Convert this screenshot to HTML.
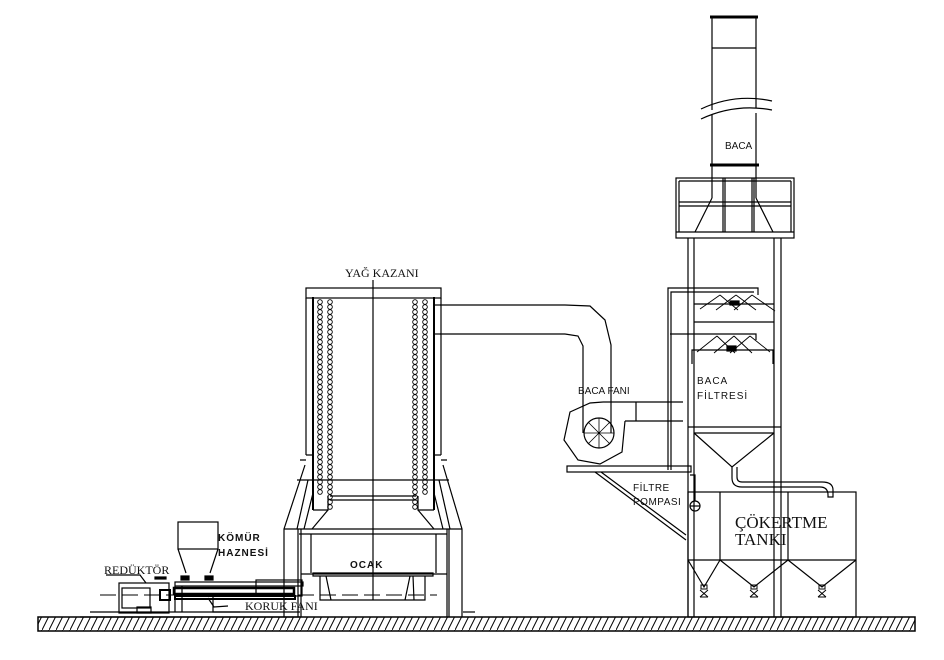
<!DOCTYPE html>
<html><head><meta charset="utf-8"><style>
html,body{margin:0;padding:0;background:#fff;}
svg{display:block;}
text{font-family:"Liberation Sans",sans-serif;fill:#111;}
.s{font-family:"Liberation Serif",serif;}
</style></head><body>
<svg width="944" height="660" viewBox="0 0 944 660" xmlns="http://www.w3.org/2000/svg">
<defs>
<pattern id="h" width="7" height="14" patternUnits="userSpaceOnUse">
<line x1="0" y1="14" x2="7" y2="0" stroke="#000" stroke-width="1"/>
</pattern>
</defs>
<g fill="none" stroke="#000" stroke-width="1.2">
<!-- ground -->
<rect x="38" y="617" width="877" height="14" fill="url(#h)" stroke="#000" stroke-width="1.5"/>

<!-- chimney -->
<line x1="710" y1="17" x2="758" y2="17" stroke-width="3"/>
<line x1="712" y1="17" x2="712" y2="110"/><line x1="756" y1="17" x2="756" y2="108"/>
<line x1="712" y1="48" x2="756" y2="48"/>
<path d="M701 109 Q735 93 772 101"/><path d="M701 119 Q735 103 772 110"/>
<line x1="712" y1="115" x2="712" y2="165"/><line x1="756" y1="113" x2="756" y2="165"/>
<line x1="710" y1="165" x2="759" y2="165" stroke-width="3"/>
<line x1="712" y1="165" x2="712" y2="198"/><line x1="756" y1="165" x2="756" y2="198"/>

<!-- platform -->
<rect x="676" y="178" width="118" height="60"/>
<line x1="679" y1="181" x2="679" y2="232"/><line x1="791" y1="181" x2="791" y2="232"/>
<line x1="679" y1="181" x2="791" y2="181"/>
<line x1="679" y1="202" x2="791" y2="202"/><line x1="679" y1="206" x2="791" y2="206"/>
<line x1="723" y1="178" x2="723" y2="232"/><line x1="725" y1="178" x2="725" y2="232"/>
<line x1="752" y1="178" x2="752" y2="232"/><line x1="754" y1="178" x2="754" y2="232"/>
<line x1="712" y1="198" x2="695" y2="232"/><line x1="756" y1="198" x2="773" y2="232"/>
<line x1="676" y1="232" x2="794" y2="232"/>

<!-- tower columns -->
<line x1="688" y1="238" x2="688" y2="617"/><line x1="694" y1="238" x2="694" y2="617"/>
<line x1="774" y1="238" x2="774" y2="617"/><line x1="781" y1="238" x2="781" y2="617"/>
<!-- header pipes -->
<path d="M668 470 V288 H758 V295"/><path d="M671 470 V292 H754"/>
<path d="M670 334 H756 V340"/>
<!-- spray 1 -->
<line x1="694" y1="304" x2="774" y2="304"/>
<line x1="694" y1="322" x2="774" y2="322"/>
<g stroke-width="0.9">
<path d="M720 295 L700 309 M720 295 L738 310 M736 295 L716 310 M736 295 L756 310 M752 295 L734 310 M752 295 L775 311"/>
</g>
<rect x="730" y="301" width="9" height="4" fill="#000"/>
<!-- spray 2 -->
<path d="M692 364 V350 H773 V364"/>
<g stroke-width="0.9">
<path d="M717 336 L697 352 M717 336 L735 353 M734 336 L714 353 M734 336 L752 353 M750 336 L730 353 M750 336 L770 352"/>
</g>
<rect x="727" y="346" width="9" height="5" fill="#000"/>
<!-- filter bottom & cone -->
<line x1="688" y1="427" x2="781" y2="427"/>
<line x1="694" y1="433" x2="774" y2="433"/>
<path d="M694 433 L732 467 L774 433"/>
<path d="M732 467 V478 Q732 487 742 487 H820 Q828 487 828 495 V497 H833 V490 Q833 482 822 482 H742 Q737 482 737 477 V467"/>

<!-- tank -->
<rect x="688" y="492" width="168" height="125"/>
<line x1="720" y1="492" x2="720" y2="560"/><line x1="788" y1="492" x2="788" y2="560"/>
<line x1="688" y1="560" x2="856" y2="560"/>
<path d="M688 560 L704 587 L720 560"/><path d="M720 560 L754 587 L788 560"/><path d="M788 560 L822 587 L856 560"/>
<g stroke-width="1">
<rect x="701" y="585" width="6" height="4"/><path d="M700 590 L708 597 M708 590 L700 597 M700 597 H708"/>
<rect x="751" y="585" width="6" height="4"/><path d="M750 590 L758 597 M758 590 L750 597 M750 597 H758"/>
<rect x="819" y="585" width="6" height="4"/><path d="M818 590 L826 597 M826 590 L818 597 M818 597 H826"/>
</g>
<!-- pump -->
<circle cx="695" cy="506" r="5"/><line x1="690" y1="506" x2="700" y2="506"/>
<path d="M695 501 V475 H690"/>
<!-- shelf -->
<rect x="567" y="466" width="124" height="6"/>
<path d="M595 472 L686 540 M601 472 L686 535"/>

<!-- baca fanı duct -->
<line x1="440" y1="305" x2="565" y2="305"/>
<line x1="440" y1="334" x2="565" y2="334"/>
<path d="M565 305 L590 306 L605 320 L611 345 L611 433"/>
<path d="M565 334 L578 336 L583 346 L583 433"/>
<path d="M603 402 H683 M625 421 H683 M636 402 V421"/>
<path d="M603 402 L590 403 L570 412 L564 440 L578 460 L600 464 L622 452 L625 421"/>
<circle cx="599" cy="433" r="15"/>
<g stroke-width="0.8">
<path d="M599 418 V448 M584 433 H614 M588 422 L610 444 M610 422 L588 444"/>
</g>

<!-- boiler -->
<rect x="306" y="288" width="135" height="10"/>
<line x1="306" y1="298" x2="306" y2="455"/><line x1="441" y1="298" x2="441" y2="455"/>
<line x1="313" y1="297" x2="313" y2="510" stroke-width="2"/><line x1="434" y1="297" x2="434" y2="510" stroke-width="2"/>
<line x1="434" y1="305" x2="441" y2="305"/><line x1="434" y1="334" x2="441" y2="334"/>
<line x1="373" y1="280" x2="373" y2="600"/>
<line x1="297" y1="480" x2="449" y2="480"/>
<path d="M330 496 H416 M330 500 H416"/>
<path d="M306 455 H313 V480 M441 455 H434 V480"/>
<path d="M300 460 H306 M441 460 H447"/>
<!-- furnace skirt -->
<path d="M305 465 L284 529 V617"/><path d="M443 465 L462 529 V617"/>
<path d="M308 480 L297 529 M313 493 L304 529 M328 510 L312 529"/>
<path d="M439 480 L450 529 M434 493 L443 529 M418 510 L434 529"/>
<path d="M313 510 H328 V496 M434 510 H418 V496"/>
<line x1="284" y1="529" x2="462" y2="529"/>
<line x1="299" y1="534" x2="447" y2="534"/>
<path d="M298 529 V617 M301 529 V617 M447 529 V617 M449 529 V617"/>
<path d="M311 534 V573 M436 534 V573"/>
<path d="M313 573 H433 V576 H313 Z"/>
<path d="M301 574 H447"/>
<path d="M320 576 V600 H425 V576"/>
<path d="M326 576 L331 600 M413 576 L414 600 M410 576 L405 600"/>
<line x1="100" y1="595" x2="437" y2="595" stroke-dasharray="16 6" stroke-width="0.9"/>
<line x1="463" y1="612" x2="475" y2="612"/>

<!-- hopper & screw -->
<rect x="178" y="522" width="40" height="27"/>
<path d="M178 549 L186 573 M218 549 L210 573"/>
<rect x="181" y="576" width="8" height="4" fill="#000"/><rect x="205" y="576" width="8" height="4" fill="#000"/>
<rect x="155" y="577" width="11" height="2" fill="#000"/>
<rect x="175" y="582" width="128" height="4"/>
<rect x="174" y="588" width="120" height="6" stroke-width="2.5"/>
<rect x="175" y="596" width="120" height="3" stroke-width="2"/>
<path d="M175 586 V612 M182 586 V612"/>
<rect x="119" y="583" width="50" height="30"/>
<rect x="122" y="588" width="28" height="20"/>
<rect x="137" y="607" width="14" height="6"/>
<path d="M106 575 H140 L146 583"/>
<rect x="160" y="590" width="10" height="10" stroke-width="2"/>
<rect x="256" y="580" width="46" height="16"/>
<path d="M213 596 V612 H240"/>
<path d="M208 598 L214 607 L228 606"/>
<line x1="90" y1="612" x2="300" y2="612"/>
<line x1="80" y1="617" x2="300" y2="617"/>
</g>

<!-- labels -->
<text x="725" y="149" font-size="10">BACA</text>
<text x="345" y="277" font-size="12" class="s">YAĞ KAZANI</text>
<text x="578" y="394" font-size="10">BACA FANI</text>
<text x="697" y="384" font-size="10" letter-spacing="1">BACA</text>
<text x="697" y="399" font-size="10" letter-spacing="1">FİLTRESİ</text>
<text x="633" y="491" font-size="10" letter-spacing="0.5">FİLTRE</text>
<text x="633" y="505" font-size="10" letter-spacing="0.5">POMPASI</text>
<text x="735" y="528" font-size="17" class="s">ÇÖKERTME</text>
<text x="735" y="545" font-size="17" class="s">TANKI</text>
<text x="218" y="541" font-size="10" font-weight="bold" letter-spacing="1">KÖMÜR</text>
<text x="218" y="556" font-size="10" font-weight="bold" letter-spacing="1">HAZNESİ</text>
<text x="104" y="574" font-size="12" class="s">REDÜKTÖR</text>
<text x="350" y="568" font-size="10" font-weight="bold" letter-spacing="1">OCAK</text>
<text x="245" y="610" font-size="12" class="s">KORUK FANI</text>
</svg>
<svg style="position:absolute;left:0;top:0" width="944" height="660">
<g fill="none" stroke="#000" stroke-width="0.9">
<g id="c1"></g>
</g>
</svg>
<script>
var g=document.getElementById('c1');var ns='http://www.w3.org/2000/svg';
[[320,302,493],[330,302,510],[415,302,510],[425,302,493]].forEach(function(c){
for(var y=c[1];y<=c[2];y+=5){var e=document.createElementNS(ns,'circle');e.setAttribute('cx',c[0]);e.setAttribute('cy',y);e.setAttribute('r',2.3);g.appendChild(e);}
});
</script>
</body></html>
